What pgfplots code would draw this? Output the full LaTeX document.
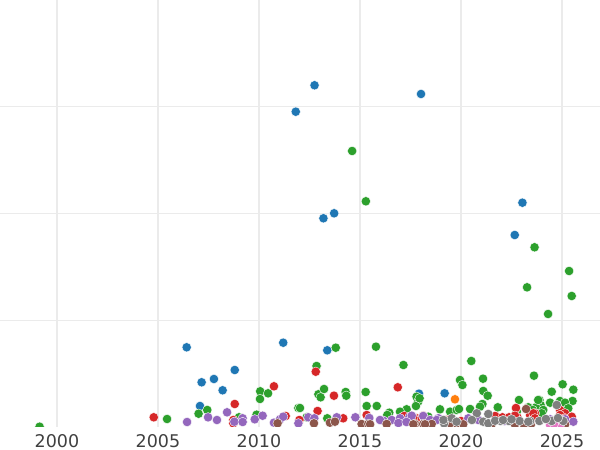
\documentclass[border=0pt]{standalone}
\usepackage{pgfplots}
\pgfplotsset{compat=1.18}
\usepackage{fontspec}
\setmainfont{DejaVu Sans}
\definecolor{cblue}{HTML}{1F77B4}
\definecolor{corange}{HTML}{FF7F0E}
\definecolor{cgreen}{HTML}{2CA02C}
\definecolor{cred}{HTML}{D62728}
\definecolor{cpurple}{HTML}{9467BD}
\definecolor{cbrown}{HTML}{8C564B}
\definecolor{cpink}{HTML}{E377C2}
\definecolor{cgray}{HTML}{7F7F7F}
\definecolor{gridc}{HTML}{EBEBEB}
\definecolor{labc}{HTML}{404040}
\pgfplotsset{
  dots/.style={only marks, mark=*, mark size=4.7pt, mark options={draw=white, line width=0.4pt, fill=#1}},
  geom/.style={at={(0pt,23pt)}, anchor=south west,
    scale only axis, width=600pt, height=427pt,
    xmin=1997.18, xmax=2026.88, ymin=0, ymax=427},
}
\begin{document}
\begin{tikzpicture}
\begin{axis}[geom,
  axis line style={draw=none},
  major tick length=0pt,
  grid=major,
  grid style={color=gridc, line width=1.3pt},
  xtick={2000,2005,2010,2015,2020,2025},
  xticklabels={2000,2005,2010,2015,2020,2025},
  ytick={106.75,213.5,320.25},
  yticklabels={},
  xticklabel style={font=\fontsize{17.5}{20}\selectfont, text=labc, anchor=base, yshift=-20pt},
]
\addplot[draw=none] coordinates {(2000,100)};
\end{axis}
\begin{scope}
\clip (0pt,23pt) rectangle (600pt,450pt);
\begin{axis}[geom, hide axis]
% blue
\addplot[dots=cblue] coordinates {
(2012.75,341.7) (2011.82,315.3) (2018.02,333) (2013.72,213.7) (2013.19,208.7)
(2023.04,224.3) (2022.66,192) (2006.42,79.7) (2011.20,84.3) (2007.16,44.7)
(2007.77,48) (2008.80,57) (2008.20,36.7) (2007.08,21) (2013.38,76.7)
(2017.92,33.3) (2019.19,33.7)
};
% orange
\addplot[dots=corange] coordinates {(2019.70,27.7)};
% green
\addplot[dots=cgreen] coordinates {
(2014.61,276) (2015.29,225.7) (2023.64,179.7) (2025.35,156) (2023.27,139.7)
(2025.48,131) (2024.31,113)
(1999.14,0.3) (2005.45,8) (2007.01,13.3) (2007.44,17) (2009.01,9.7) (2009.88,12.3)
(2010.06,35.7) (2010.45,33.7) (2010.05,28) (2011.95,19) (2012.36,9.7)
(2012.85,61) (2012.94,32.7) (2013.05,29.7) (2013.80,79.3) (2015.79,80.3) (2017.15,62)
(2013.22,38) (2014.29,35) (2014.32,31.3) (2015.28,35) (2015.33,21) (2015.83,21)
(2016.45,14.3) (2016.35,12) (2017.06,14.3) (2017.31,17.7) (2017.80,30.3) (2017.88,25.3)
(2017.77,21) (2017.95,28.7) (2018.96,17.7) (2019.46,15.3) (2019.79,17) (2013.38,8.7) (2018.38,10.3)
(2020.51,66) (2019.95,47) (2020.07,42) (2021.09,48.3) (2021.10,36) (2021.32,31.3)
(2023.61,51.3) (2025.03,42.7) (2025.56,37.3) (2024.49,35.3) (2025.52,26) (2022.87,27)
(2024.41,24.3) (2024.90,26) (2025.15,24.3) (2023.88,27) (2023.94,22) (2023.71,19.7)
(2021.82,19.7) (2021.06,23) (2020.45,18) (2019.90,18) (2023.33,19.7) (2023.55,17)
(2024.07,17) (2020.94,20.3) (2022.76,15.3) (2023.99,13.7) (2025.31,18.7) (2023.82,27)
(2012.03,19) (2016.98,15.3)
};
% red
\addplot[dots=cred] coordinates {
(2004.79,9.7) (2008.80,23) (2008.73,7) (2008.73,3.7) (2010.74,40.7) (2011.32,11)
(2012.00,7) (2012.90,16) (2012.81,55.3) (2013.71,31.3) (2014.17,8.7) (2015.33,12)
(2016.87,39.7) (2017.19,11) (2017.81,8.7) (2018.22,7.7) (2019.29,7) (2017.64,9.3)
(2018.13,11.3) (2022.72,19) (2023.66,13.7) (2023.42,12) (2024.90,17) (2025.15,13.7)
(2021.69,11) (2022.05,9.7) (2022.38,9.7) (2022.79,9.7) (2022.67,11.3) (2023.58,13.7)
(2023.66,8.7) (2024.90,12) (2025.15,8.7) (2025.48,10.3) (2020.0,6) (2020.7,8)
};
% purple
\addplot[dots=cpurple] coordinates {
(2006.44,5) (2007.48,9.7) (2007.92,7) (2008.42,14.7) (2008.78,5.3) (2009.19,8.7)
(2009.19,5) (2009.79,7.7) (2010.18,11.3) (2010.74,4.3) (2011.04,7.7) (2011.20,10.3)
(2011.95,3.7) (2012.44,9.7) (2012.74,8.7) (2013.85,9.7) (2014.77,9.7) (2015.46,9)
(2016.16,6.3) (2016.57,7) (2017.44,9.7) (2018.13,11) (2018.88,8.7) (2015.99,7)
(2016.98,8.7) (2017.56,11.3) (2018.47,7) (2018.80,7) (2020.36,8.7) (2019.77,5.3)
(2020.86,7) (2024.41,7.7) (2025.15,7.7) (2025.56,5.3) (2022.16,6) (2016.9,4) (2017.3,5)
};
% brown
\addplot[dots=cbrown] coordinates {
(2010.92,3.7) (2012.72,3.7) (2013.51,4.3) (2013.76,5.3) (2015.08,3) (2015.41,3)
(2016.32,3) (2017.72,3) (2018.13,3) (2018.55,3) (2015.50,2.7) (2017.64,2.7)
(2018.22,2.7) (2019.29,2.7) (2019.78,2.7) (2020.11,2.7) (2019.46,3.7) (2021.52,3)
(2022.67,2.5) (2023.45,2) (2025.15,2.5) (2023.22,18) (2023.1,3)
};
% pink
\addplot[dots=cpink] coordinates {
(2024.41,2) (2024.90,2) (2024.6,3)
};
% gray
\addplot[dots=cgray] coordinates {
(2019.16,3.7) (2019.13,7) (2019.54,8.7) (2019.78,5.3) (2020.78,13.7) (2020.54,7)
(2021.10,5.3) (2021.35,13) (2021.35,3.7) (2021.96,6) (2022.37,6) (2022.90,6)
(2023.42,6) (2023.88,6) (2024.49,6) (2025.06,6) (2024.74,22) (2021.69,6.3)
(2022.08,7) (2022.50,7.7) (2023.33,5.3) (2024.2,8) (2024.8,9)
};
\end{axis}
\end{scope}
\pgfresetboundingbox
\useasboundingbox (0pt,0pt) rectangle (600pt,450pt);
\end{tikzpicture}
\end{document}
